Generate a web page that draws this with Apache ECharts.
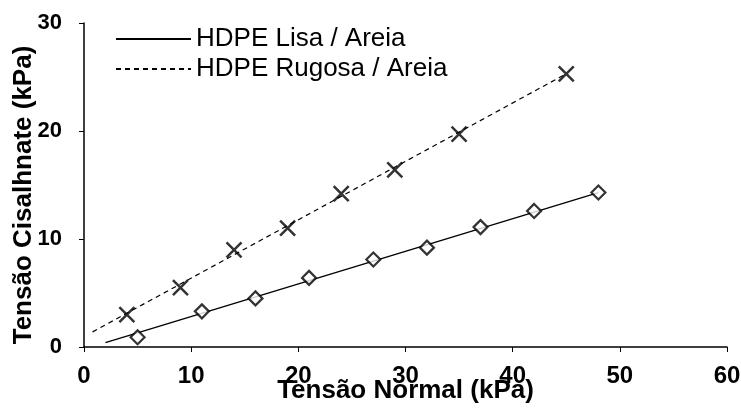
<!DOCTYPE html>
<html>
<head>
<meta charset="utf-8">
<script src="https://cdn.jsdelivr.net/npm/echarts@6/dist/echarts.min.js"></script>
<style>
  html, body { margin: 0; padding: 0; background: #fff; }
  #chart { width: 741px; height: 412px; }
</style>
</head>
<body>
<div id="chart"></div>
<script>
// pontos medidos - geomembrana lisa
var lisaX = [5, 11, 16, 21, 27, 32, 37, 42, 48];
var lisaY = [0.9, 3.3, 4.5, 6.4, 8.1, 9.2, 11.1, 12.6, 14.3];
// pontos medidos - geomembrana rugosa
var rugosaX = [4, 9, 14, 19, 24, 29, 35, 45];
var rugosaY = [3.0, 5.5, 9.0, 11.0, 14.2, 16.4, 19.7, 25.3];
// extremos das retas de ajuste
var lisaFitX = [2, 48];
var lisaFitY = [0.4, 14.3];
var rugosaFitX = [0.8, 45];
var rugosaFitY = [1.4, 25.3];
var xTicks = [0, 10, 20, 30, 40, 50, 60];
var yTicks = [0, 10, 20, 30];

function pares(xs, ys) {
    return xs.map(function (x, i) { return [x, ys[i]]; });
}

var fonte = '"Liberation Sans", Arial, sans-serif';
var cruz = 'path://M0,0L10,10M10,0L0,10';

var chart = echarts.init(document.getElementById('chart'));
var option = {
    backgroundColor: '#fff',
    animation: false,
    grid: { left: 84, right: 14, top: 23, bottom: 65, containLabel: false, outerBoundsMode: 'none' },
    legend: {
        left: 115,
        top: 26,
        padding: 0,
        orient: 'vertical',
        itemWidth: 75,
        itemHeight: 14,
        itemGap: 4,
        itemStyle: { opacity: 0 },
        data: ['HDPE Lisa / Areia', 'HDPE Rugosa / Areia'],
        textStyle: { fontFamily: fonte, fontSize: 26, color: '#000', lineHeight: 26 }
    },
    xAxis: {
        type: 'value',
        min: xTicks[0],
        max: xTicks[xTicks.length - 1],
        interval: 10,
        name: 'Tensão Normal (kPa)',
        nameLocation: 'middle',
        nameGap: 31,
        nameMoveOverlap: false,
        nameTextStyle: { fontFamily: fonte, fontSize: 26, fontWeight: 'bold', color: '#000' },
        axisLine: { lineStyle: { color: '#000', width: 1.5 } },
        axisTick: { inside: false, length: 5, lineStyle: { color: '#000' } },
        axisLabel: { margin: 17, fontFamily: fonte, fontSize: 24, fontWeight: 'bold', color: '#000' },
        splitLine: { show: false }
    },
    yAxis: {
        type: 'value',
        min: yTicks[0],
        max: yTicks[yTicks.length - 1],
        interval: 10,
        name: 'Tensão Cisalhnate (kPa)',
        nameLocation: 'middle',
        nameGap: 47,
        nameMoveOverlap: false,
        nameTextStyle: { fontFamily: fonte, fontSize: 26, fontWeight: 'bold', color: '#000', padding: [0, 20, 0, 0] },
        axisLine: { show: true, lineStyle: { color: '#000', width: 1.5 } },
        axisTick: { show: true, inside: false, length: 5, lineStyle: { color: '#000' } },
        axisLabel: { margin: 22, fontFamily: fonte, fontSize: 22, fontWeight: 'bold', color: '#000' },
        splitLine: { show: false }
    },
    series: [
        {
            name: 'HDPE Lisa / Areia',
            type: 'line',
            symbol: 'none',
            silent: true,
            data: pares(lisaFitX, lisaFitY),
            lineStyle: { color: '#000', width: 1.3, type: 'solid' },
            itemStyle: { color: '#000' }
        },
        {
            name: 'HDPE Rugosa / Areia',
            type: 'line',
            symbol: 'none',
            silent: true,
            data: pares(rugosaFitX, rugosaFitY),
            lineStyle: { color: '#000', width: 1.2, type: [5, 4] },
            itemStyle: { color: '#000' }
        },
        {
            name: 'lisa pontos',
            type: 'scatter',
            symbol: 'diamond',
            symbolSize: 14,
            data: pares(lisaX, lisaY),
            itemStyle: { color: '#fff', borderColor: '#000', borderWidth: 2.2 },
            z: 3
        },
        {
            name: 'rugosa pontos',
            type: 'scatter',
            symbol: cruz,
            symbolSize: 15,
            data: pares(rugosaX, rugosaY),
            itemStyle: { color: 'none', borderColor: '#000', borderWidth: 2.5 },
            z: 3
        }
    ]
};
chart.setOption(option);
</script>
</body>
</html>
